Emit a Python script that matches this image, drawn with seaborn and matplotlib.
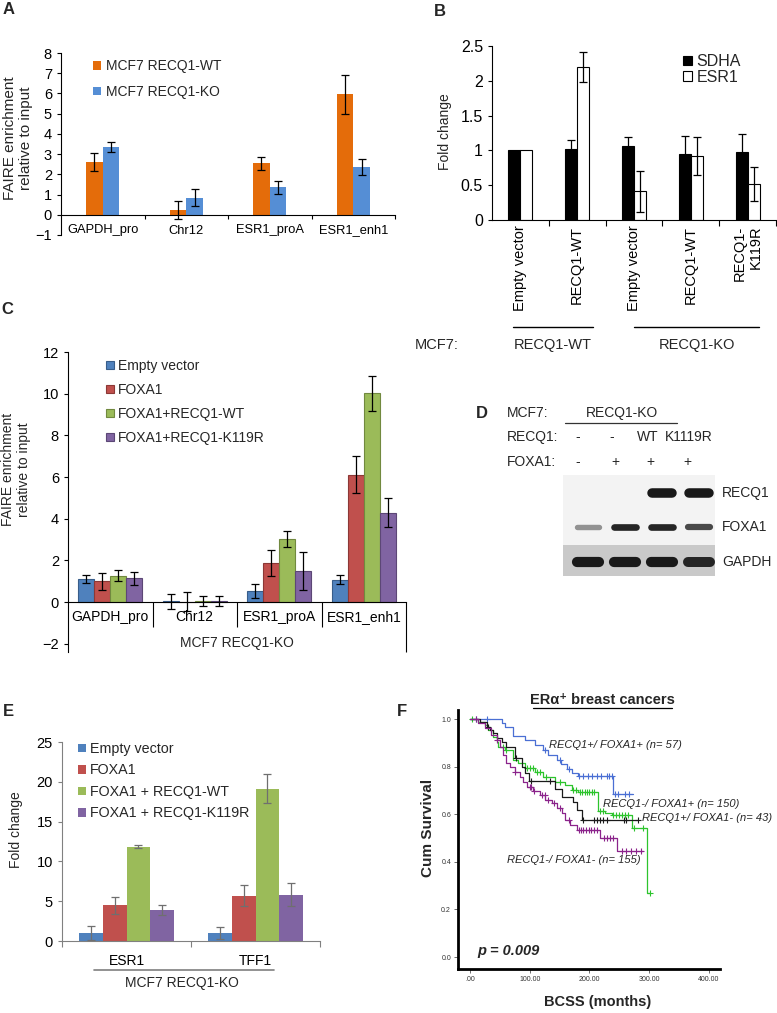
import numpy as np
import pandas as pd
import matplotlib
matplotlib.use("Agg")
import matplotlib.pyplot as plt
from matplotlib.patches import Patch, Rectangle
from matplotlib.lines import Line2D
from matplotlib.ticker import FuncFormatter
import seaborn as sns

sns.set_style("ticks")
plt.rcParams['font.family'] = ['Liberation Sans', 'DejaVu Sans']
plt.rcParams['axes.linewidth'] = 0.8
plt.rcParams['axes.edgecolor'] = 'black'
plt.rcParams['xtick.color'] = 'black'
plt.rcParams['ytick.color'] = 'black'

# ---------------- data ----------------
# Panel A
a_cats = ["GAPDH_pro", "Chr12", "ESR1_proA", "ESR1_enh1"]
a_groups = ["MCF7 RECQ1-WT", "MCF7 RECQ1-KO"]
a_wt = [2.6, 0.25, 2.55, 5.95]
a_wt_err = [0.45, 0.45, 0.32, 0.95]
a_ko = [3.35, 0.85, 1.35, 2.35]
a_ko_err = [0.25, 0.43, 0.32, 0.40]
a_colors = ["#E46C0A", "#558ED5"]

# Panel B
b_ids = ["WT_EV", "WT_WT", "KO_EV", "KO_WT", "KO_K119R"]
b_labels = ["Empty vector", "RECQ1-WT", "Empty vector", "RECQ1-WT", "RECQ1-\nK119R"]
b_groups = ["SDHA", "ESR1"]
b_sdha = [1.0, 1.02, 1.06, 0.95, 0.97]
b_sdha_err = [0.0, 0.13, 0.13, 0.25, 0.27]
b_esr1 = [1.0, 2.20, 0.41, 0.92, 0.52]
b_esr1_err = [0.0, 0.22, 0.30, 0.27, 0.24]

# Panel C
c_cats = ["GAPDH_pro", "Chr12", "ESR1_proA", "ESR1_enh1"]
c_groups = ["Empty vector", "FOXA1", "FOXA1+RECQ1-WT", "FOXA1+RECQ1-K119R"]
c_ev = [1.10, 0.03, 0.52, 1.07]
c_ev_err = [0.18, 0.35, 0.35, 0.22]
c_fox = [1.00, 0.02, 1.87, 6.12]
c_fox_err = [0.40, 0.45, 0.62, 0.90]
c_wt = [1.27, 0.05, 3.03, 10.02]
c_wt_err = [0.27, 0.25, 0.37, 0.85]
c_k = [1.13, 0.05, 1.50, 4.28]
c_k_err = [0.30, 0.25, 0.90, 0.70]
c_colors = ["#4F81BD", "#C0504D", "#9BBB59", "#8064A2"]
c_edges = ["#385D8A", "#8C3836", "#71893F", "#5C4776"]

# Panel D (western blot band intensities, lanes 1-4)
d_lanes = [1, 2, 3, 4]
d_recq1 = [0.0, 0.0, 0.95, 0.95]
d_foxa1 = [0.45, 0.9, 0.9, 0.75]
d_gapdh = [0.95, 0.95, 0.95, 0.9]
d_recq1_lbl = ["-", "-", "WT", "K1119R"]
d_foxa1_lbl = ["-", "+", "+", "+"]

# Panel E
e_cats = ["ESR1", "TFF1"]
e_groups = ["Empty vector", "FOXA1", "FOXA1 + RECQ1-WT", "FOXA1 + RECQ1-K119R"]
e_ev = [1.0, 1.0]
e_ev_err = [0.9, 0.7]
e_fox = [4.5, 5.7]
e_fox_err = [1.05, 1.3]
e_wt = [11.85, 19.15]
e_wt_err = [0.15, 1.8]
e_k = [3.9, 5.8]
e_k_err = [0.6, 1.45]
e_colors = ["#4F81BD", "#C0504D", "#9BBB59", "#8064A2"]

# Panel F (Kaplan-Meier steps)
f_blue_t = [0, 53, 59, 72, 92, 109, 123, 131, 145, 153, 162, 170, 181, 240, 273]
f_blue_s = [1.0, 0.982, 0.965, 0.93, 0.912, 0.89, 0.87, 0.85, 0.83, 0.81, 0.79, 0.775, 0.76, 0.684, 0.684]
f_blue_c = [10, 28, 125, 150, 165, 182, 190, 197, 204, 212, 220, 229, 233, 237, 243, 248, 260, 266]
f_green_t = [0, 14, 25, 31, 39, 45, 47, 59, 72, 81, 92, 109, 123, 142, 159, 170, 181, 215, 226, 237, 271, 296, 302]
f_green_s = [1.0, 0.989, 0.975, 0.954, 0.926, 0.905, 0.884, 0.87, 0.828, 0.814, 0.793, 0.779, 0.758, 0.737, 0.723, 0.702,
             0.692, 0.613, 0.604, 0.597, 0.543, 0.27, 0.27]
f_green_c = [4, 56, 60, 95, 100, 105, 112, 118, 128, 150, 172, 178, 184, 188, 192, 196, 200, 204, 208, 218, 223,
             240, 245, 250, 255, 260, 265, 275, 290, 302]
f_black_t = [0, 17, 28, 34, 39, 45, 53, 61, 75, 87, 92, 98, 142, 154, 173, 179, 187, 282]
f_black_s = [1.0, 0.989, 0.968, 0.954, 0.94, 0.919, 0.905, 0.884, 0.835, 0.80, 0.772, 0.739, 0.708, 0.673, 0.652,
             0.617, 0.578, 0.578]
f_black_c = [30, 77, 103, 134, 190, 207, 212, 218, 223, 229, 257, 262, 282]
f_purple_t = [0, 14, 25, 36, 45, 50, 56, 61, 67, 75, 84, 89, 95, 106, 117, 126, 137, 145, 154, 159, 167, 179, 218,
              246, 290]
f_purple_s = [1.0, 0.982, 0.961, 0.933, 0.912, 0.884, 0.849, 0.814, 0.80, 0.779, 0.758, 0.737, 0.716, 0.698, 0.681,
              0.66, 0.646, 0.625, 0.604, 0.576, 0.555, 0.536, 0.499, 0.447, 0.447]
f_purple_c = [10, 45, 75, 100, 103, 108, 120, 125, 130, 140, 150, 165, 182, 186, 190, 195, 199, 203, 207, 212,
              225, 230, 235, 240, 254, 262, 270, 278, 287]
f_colors = {"blue": "#4A6FD4", "green": "#2DC42D", "black": "#1A1A1A", "purple": "#8B238B"}

# ---------------- helpers ----------------
W, H = 777, 1013
fig = plt.figure(figsize=(W / 100, H / 100), dpi=100)


def add_ax(l, t, r, b):
    return fig.add_axes([l / W, 1 - b / H, (r - l) / W, (b - t) / H])


def ftext(x, y, s, **kw):
    kw.setdefault('ha', 'center')
    kw.setdefault('va', 'center')
    return fig.text(x / W, 1 - y / H, s, **kw)


def fline(x0, x1, y, **kw):
    fig.add_artist(Line2D([x0 / W, x1 / W], [1 - y / H, 1 - y / H], **kw))


def long_df(cats, groups, vals):
    rows = [(c, g, v) for g, vs in zip(groups, vals) for c, v in zip(cats, vs)]
    return pd.DataFrame(rows, columns=['cat', 'grp', 'val'])


def add_errors(ax, conts, vals, errs, color, lw=0.9, cap=3):
    for cont, vs, es in zip(conts, vals, errs):
        xs = [b.get_x() + b.get_width() / 2 for b in cont]
        sel = [i for i, e in enumerate(es) if e > 0]
        ax.errorbar([xs[i] for i in sel], [vs[i] for i in sel], yerr=[es[i] for i in sel], fmt='none',
                    ecolor=color, elinewidth=lw, capsize=cap, capthick=lw, zorder=5)


def square_legend(ax, labels, colors, edges, anchor, fontsize, spacing, hl=0.6):
    handles = [Patch(facecolor=c, edgecolor=e, linewidth=(0.8 if e != 'none' else 0)) for c, e in zip(colors, edges)]
    ax.legend(handles, labels, loc='upper left', bbox_to_anchor=anchor, frameon=False, fontsize=fontsize,
              handlelength=hl, handleheight=hl, handletextpad=0.3, labelspacing=spacing, borderpad=0,
              borderaxespad=0)


# ---------------- Panel A ----------------
axA = add_ax(61, 53, 395, 235)
dfA = long_df(a_cats, a_groups, [a_wt, a_ko])
sns.barplot(data=dfA, x='cat', y='val', hue='grp', order=a_cats, hue_order=a_groups, palette=a_colors,
            width=0.4, saturation=1, errorbar=None, legend=False, linewidth=0, ax=axA)
contsA = list(axA.containers)
add_errors(axA, contsA, [a_wt, a_ko], [a_wt_err, a_ko_err], 'black')
axA.set_ylim(-1, 8)
axA.set_xlim(-0.5, 3.5)
axA.spines['bottom'].set_position(('data', 0))
axA.spines['top'].set_visible(False)
axA.spines['right'].set_visible(False)
axA.set_yticks(range(-1, 9))
axA.tick_params(axis='y', labelsize=10.5, length=3, width=0.8)
axA.set_xticks([0.5, 1.5, 2.5, 3.5], minor=True)
axA.tick_params(axis='x', which='major', length=0, labelsize=9.3, pad=7)
axA.tick_params(axis='x', which='minor', length=3, width=0.8)
axA.set_xlabel('')
axA.set_ylabel('FAIRE enrichment\nrelative to input', fontsize=11)
axA.yaxis.set_label_coords(-0.084, 0.53)
square_legend(axA, a_groups, a_colors, ['none', 'none'], (0.096, 0.967), 10, 0.86)

# ---------------- Panel B ----------------
axB = add_ax(492, 46, 776, 220)
dfB = long_df(b_ids, b_groups, [b_sdha, b_esr1])
sns.barplot(data=dfB, x='cat', y='val', hue='grp', order=b_ids, hue_order=b_groups, palette=['black', 'white'],
            width=0.42, saturation=1, errorbar=None, legend=False, linewidth=0.8, edgecolor='black', ax=axB)
contsB = list(axB.containers)
add_errors(axB, contsB, [b_sdha, b_esr1], [b_sdha_err, b_esr1_err], 'black', lw=0.9, cap=3)
axB.set_ylim(0, 2.5)
axB.set_xlim(-0.5, 4.5)
axB.spines['top'].set_visible(False)
axB.spines['right'].set_visible(False)
axB.set_yticks([0, 0.5, 1, 1.5, 2, 2.5])
axB.yaxis.set_major_formatter(FuncFormatter(lambda v, p: f"{v:g}"))
axB.tick_params(axis='y', labelsize=11.5, length=3, width=0.8)
axB.set_xticks(range(len(b_ids)))
axB.set_xticklabels(b_labels, rotation=90, fontsize=10.5, va='top', ha='center')
for lab in axB.get_xticklabels():
    lab.set_multialignment('right')
axB.set_xticks([0.5, 1.5, 2.5, 3.5, 4.5], minor=True)
axB.tick_params(axis='x', which='major', length=0, pad=4)
axB.tick_params(axis='x', which='minor', length=4, width=0.8)
axB.set_xlabel('')
axB.set_ylabel('Fold change', fontsize=10)
axB.yaxis.set_label_coords(-0.141, 0.506)
square_legend(axB, b_groups, ['black', 'white'], ['black', 'black'], (0.672, 0.954), 11.5, 0.05, hl=0.55)
fline(513, 593, 327, color='black', lw=1)
fline(634, 759, 327, color='black', lw=1)
ftext(437, 345, "MCF7:", fontsize=10.5)
ftext(553, 345, "RECQ1-WT", fontsize=10.5)
ftext(697, 345, "RECQ1-KO", fontsize=10.5)

# ---------------- Panel C ----------------
axC = add_ax(68, 352, 406, 652)
dfC = long_df(c_cats, c_groups, [c_ev, c_fox, c_wt, c_k])
sns.barplot(data=dfC, x='cat', y='val', hue='grp', order=c_cats, hue_order=c_groups, palette=c_colors,
            width=0.76, saturation=1, errorbar=None, legend=False, linewidth=0.8, ax=axC)
contsC = list(axC.containers)
for cont, ec in zip(contsC, c_edges):
    for b in cont:
        b.set_edgecolor(ec)
add_errors(axC, contsC, [c_ev, c_fox, c_wt, c_k], [c_ev_err, c_fox_err, c_wt_err, c_k_err], 'black')
axC.set_ylim(-2.4, 12)
axC.set_xlim(-0.5, 3.5)
axC.spines['bottom'].set_position(('data', 0))
axC.spines['top'].set_visible(False)
axC.spines['right'].set_visible(False)
axC.set_yticks(range(-2, 13, 2))
axC.tick_params(axis='y', labelsize=10.5, length=3, width=0.8)
axC.tick_params(axis='x', which='major', length=0, labelsize=10, pad=6)
axC.vlines([0.5, 1.5, 2.5], -1.2, 0, color='black', lw=0.8, clip_on=False)
axC.vlines([3.5], -2.4, 0, color='black', lw=0.8, clip_on=False)
axC.set_xlabel('')
axC.text(1.5, -1.97, "MCF7 RECQ1-KO", ha='center', va='center', fontsize=10)
axC.set_ylabel('FAIRE enrichment\nrelative to input', fontsize=10)
axC.yaxis.set_label_coords(-0.109, 0.607)
square_legend(axC, c_groups, c_colors, c_edges, (0.112, 0.977), 10, 0.72)

# ---------------- Panel D (blot) ----------------
axD = add_ax(563, 475, 715, 576)
axD.set_xlim(0.32, 4.43)
axD.set_ylim(101, 0)
axD.axis('off')
axD.add_patch(Rectangle((0.32, 0), 4.11, 70, facecolor='#f3f3f3', edgecolor='none'))
axD.add_patch(Rectangle((0.32, 70), 4.11, 31, facecolor='#c9c9c9', edgecolor='none'))
rows = [(d_recq1, 18, 7.0, 0.27), (d_foxa1, 52, 5.0, 0.30), (d_gapdh, 87, 7.5, 0.30)]
for inten, yc, lw, half in rows:
    for lane, v in zip(d_lanes, inten):
        if v <= 0:
            continue
        g = 1 - v * 0.95
        axD.plot([lane - half, lane + half], [yc, yc], color=(g, g, g), lw=lw * (0.6 + 0.4 * v),
                 solid_capstyle='round')
ftext(482, 413, "D", fontsize=12, fontweight='bold')
ftext(507, 413, "MCF7:", fontsize=10, ha='left')
ftext(622, 413, "RECQ1-KO", fontsize=10)
fline(565, 677, 423, color='#333333', lw=0.9)
ftext(507, 437, "RECQ1:", fontsize=10, ha='left')
ftext(507, 462, "FOXA1:", fontsize=10, ha='left')
for xpx, s in zip([578, 612, 648, 689], d_recq1_lbl):
    ftext(xpx, 437, s, fontsize=10)
for xpx, s in zip([578, 615, 650, 687], d_foxa1_lbl):
    ftext(xpx, 462, s, fontsize=10)
ftext(722, 493, "RECQ1", fontsize=10, ha='left')
ftext(722, 527, "FOXA1", fontsize=10, ha='left')
ftext(722, 562, "GAPDH", fontsize=10, ha='left')

# ---------------- Panel E ----------------
axE = add_ax(62, 742, 320, 941)
dfE = long_df(e_cats, e_groups, [e_ev, e_fox, e_wt, e_k])
sns.barplot(data=dfE, x='cat', y='val', hue='grp', order=e_cats, hue_order=e_groups, palette=e_colors,
            width=0.73, saturation=1, errorbar=None, legend=False, linewidth=0, ax=axE)
contsE = list(axE.containers)
add_errors(axE, contsE, [e_ev, e_fox, e_wt, e_k], [e_ev_err, e_fox_err, e_wt_err, e_k_err], '#6f6f6f', lw=0.9)
axE.set_ylim(0, 25)
axE.set_xlim(-0.5, 1.5)
for s in ['top', 'right']:
    axE.spines[s].set_visible(False)
for s in ['left', 'bottom']:
    axE.spines[s].set_color('#808080')
axE.set_yticks(range(0, 26, 5))
axE.tick_params(axis='y', labelsize=10.5, length=3, width=0.8, color='#808080')
axE.set_xticks([-0.5, 0.5, 1.5], minor=True)
axE.tick_params(axis='x', which='major', length=0, labelsize=10, pad=9)
axE.tick_params(axis='x', which='minor', length=4, width=0.8, color='#808080')
axE.set_xlabel('')
axE.set_ylabel('Fold change', fontsize=10)
axE.yaxis.set_label_coords(-0.151, 0.558)
square_legend(axE, e_groups, e_colors, ['none'] * 4, (0.062, 1.0), 10.3, 0.52, hl=0.55)
fline(94, 274, 970, color='#7f7f7f', lw=1.2)
ftext(182, 983, "MCF7 RECQ1-KO", fontsize=10)

# ---------------- Panel F ----------------
axF = add_ax(458, 710, 720, 969)
curves = [("blue", f_blue_t, f_blue_s, f_blue_c), ("green", f_green_t, f_green_s, f_green_c),
          ("black", f_black_t, f_black_s, f_black_c), ("purple", f_purple_t, f_purple_s, f_purple_c)]
for name, t, s, cens in curves:
    col = f_colors[name]
    sns.lineplot(x=t, y=s, drawstyle='steps-post', color=col, lw=0.9, estimator=None, sort=False, ax=axF)
    t_arr = np.asarray(t)
    s_arr = np.asarray(s)
    idx = np.searchsorted(t_arr, np.asarray(cens), side='right') - 1
    axF.plot(cens, s_arr[idx], linestyle='none', marker='+', color=col, ms=4.5, mew=0.8)
axF.set_xlim(-20, 418.5)
axF.set_ylim(-0.05, 1.038)
axF.spines['top'].set_visible(False)
axF.spines['right'].set_visible(False)
axF.spines['left'].set_linewidth(2)
axF.spines['bottom'].set_linewidth(2)
axF.set_yticks([0, 0.2, 0.4, 0.6, 0.8, 1.0])
axF.set_yticklabels(['0.0', '0.2', '0.4', '0.6', '0.8', '1.0'])
axF.set_xticks([0, 100, 200, 300, 400])
axF.set_xticklabels(['.00', '100.00', '200.00', '300.00', '400.00'])
axF.tick_params(axis='both', labelsize=5, length=3, width=0.6, color='#555555', labelcolor='#333333', pad=2)
axF.set_ylabel('Cum Survival', fontsize=11, fontweight='bold')
axF.yaxis.set_label_coords(-0.088, 0.544)
axF.set_xlabel('BCSS (months)', fontsize=10.5, fontweight='bold')
axF.xaxis.set_label_coords(0.534, -0.10)
axF.text(132, 0.89, "RECQ1+/ FOXA1+ (n= 57)", fontsize=8, style='italic', va='center', ha='left')
axF.text(223, 0.643, "RECQ1-/ FOXA1+ (n= 150)", fontsize=8, style='italic', va='center', ha='left')
axF.text(288, 0.584, "RECQ1+/ FOXA1- (n= 43)", fontsize=8, style='italic', va='center', ha='left',
         clip_on=False)
axF.text(62, 0.408, "RECQ1-/ FOXA1- (n= 155)", fontsize=8, style='italic', va='center', ha='left')
axF.text(12, 0.025, "p = 0.009", fontsize=10.5, style='italic', fontweight='bold', va='center', ha='left')
ftext(602, 700, "ER\u03b1\u207a breast cancers", fontsize=10.5, fontweight='bold')
fline(533, 672, 708, color='black', lw=0.9)

# ---------------- panel letters ----------------
ftext(9, 10, "A", fontsize=12, fontweight='bold')
ftext(440, 11, "B", fontsize=12, fontweight='bold')
ftext(7, 310, "C", fontsize=12, fontweight='bold')
ftext(8, 712, "E", fontsize=12, fontweight='bold')
ftext(402, 712, "F", fontsize=12, fontweight='bold')

fig.savefig("out.png", dpi=100)
